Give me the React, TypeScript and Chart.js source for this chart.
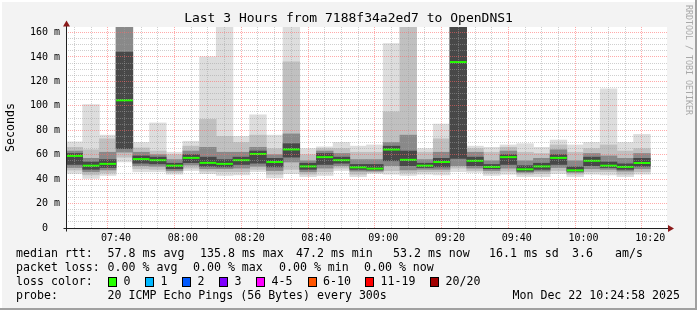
import React, { useEffect, useRef } from 'react';
import { Chart, registerables } from 'chart.js';

Chart.register(...registerables);

// ---------- data ----------
const START = '07:25';
const END = '10:25';
const barEnd = ['07:30','07:35','07:40','07:45','07:50','07:55','08:00','08:05','08:10','08:15','08:20','08:25','08:30','08:35','08:40','08:45','08:50','08:55','09:00','09:05','09:10','09:15','09:20','09:25','09:30','09:35','09:40','09:45','09:50','09:55','10:00','10:05','10:10','10:15','10:20'];
const minRtt = [44.6,40.5,43,54,46,46,44,47,44.5,43,43.5,46,41,44.5,42,43,47,42,44.5,44,43,44,43.5,46,45.5,43,44,42,42,44.5,42,44,43.5,42,44];
const lo2 =    [47.4,43.5,45,58,48.5,48,45.5,49,46.5,46,46,48,44,48,44,46,49,44,45.5,47,45,46,46,49,47,45,46.5,44,44.5,47,44,46,46,44,46];
const lo3 =    [49.5,46,47.5,62,51,50.5,47,51.5,48.5,48.5,49,50.5,47,54,46,49,51,46.5,46.5,51,47.5,48,48,51,49,47,49,45.5,46.5,49.5,45.5,48.5,48,46.5,48.5];
const lo4 =    [52,48,49.5,65,53,52.5,48.5,53.5,50.5,50,52,53,50,58,48,52,53,48,47.5,55,51,49.5,50,57,51,48.5,52,46.5,48,52,46.5,51,49.5,48,50.5];
const medianRtt = [59,51,52.5,104.5,56.4,55.5,51,57.4,53.3,52.5,55.5,60.6,54,64.3,50.4,58,55.5,49.6,48.6,64.2,55.8,51,54,135.8,55,50,58,48,50.4,57.4,47.2,55,51,50,53.2];
const hi4 =    [61,54,56,144,59,58,53,60,58,56,58,63,57,69,53,61,58,52,52,67,63,53,57,200,58,52,60,51,53,60,50,58,54,52.5,57];
const hi3 =    [63,57,62,200,62,60,56,63,66,62,62,66,60,77,55,63,61,56,56,70,76,56,62,200,62,55,63,55,57,64,55,61,59,57,61];
const hi2 =    [66,64,73,200,65.5,63,60,67,89,75,70,76,65,136,60,65,65,62,62,95,175,62,73,200,65,62,66,62,61,68,62,65,68,63,65];
const maxRtt = [70.5,101,76,200,70,86,62,71,140,175,75,92.7,76,175,65,66.4,70,67,68,151,200,65,85,200,67,66,68,69,66,72,68,70,114,70,76.6];

const xTickLabels = ['07:40','08:00','08:20','08:40','09:00','09:20','09:40','10:00','10:20'];
const yMax = 164.5;
const yMajorStep = 20;
const yMinorStep = 5;

const titleText = 'Last 3 Hours from 7188f34a2ed7 to OpenDNS1';
const yTitle = 'Seconds';
const rrdTag = 'RRDTOOL / TOBI OETIKER';
const rttLabel = 'median rtt:';
const rttStats = ['57.8 ms avg', '135.8 ms max', '47.2 ms min', '53.2 ms now', '16.1 ms sd', '3.6', 'am/s'];
const lossLabel = 'packet loss:';
const lossStats = ['0.00 % avg', '0.00 % max', '0.00 % min', '0.00 % now'];
const lossColorLabel = 'loss color:';
const lossNames = ['0', '1', '2', '3', '4-5', '6-10', '11-19', '20/20'];
const lossColors = ['#26ff00', '#00b8ff', '#0059ff', '#7e00ff', '#ff00ff', '#ff5500', '#ff0000', '#a10000'];
const probeLabel = 'probe:';
const probeText = '20 ICMP Echo Pings (56 Bytes) every 300s';
const dateText = 'Mon Dec 22 10:24:58 2025';

// ---------- helpers ----------
const toMin = (s: string) => { const [h, m] = s.split(':').map(Number); return h * 60 + m; };
const START_MIN = toMin(START);
const SPAN = toMin(END) - START_MIN;
const STEP = 5;
const centers = barEnd.map((t) => toMin(t) - START_MIN - STEP / 2);
const fmtTime = (m: number) => {
  const t = START_MIN + m;
  return String(Math.floor(t / 60)).padStart(2, '0') + ':' + String(t % 60).padStart(2, '0');
};

const MONO = '"DejaVu Sans Mono", monospace';
const MAJOR = 'rgba(255,100,100,0.55)';
const MINOR = 'rgba(160,160,160,0.5)';

const framePlugin = {
  id: 'smokeFrame',
  beforeDraw(chart: any) {
    const { ctx, width, height, chartArea: a } = chart;
    ctx.save();
    ctx.fillStyle = '#f3f3f3';
    ctx.fillRect(0, 0, width, height);
    ctx.fillStyle = '#ffffff';
    ctx.fillRect(0, 0, width, 2);
    ctx.fillRect(0, 0, 2, height);
    ctx.fillStyle = '#a0a0a0';
    ctx.fillRect(width - 2, 0, 2, height);
    ctx.fillRect(0, height - 2, width, 2);
    ctx.fillStyle = '#ffffff';
    ctx.fillRect(a.left, a.top, a.right - a.left, a.bottom - a.top);
    ctx.restore();
  },
  afterDraw(chart: any) {
    const { ctx, width, chartArea: a } = chart;
    const ys = chart.scales.y;
    ctx.save();
    // axes
    const x0 = Math.round(a.left) + 0.5;
    const y0 = Math.round(ys.getPixelForValue(0)) + 0.5;
    ctx.strokeStyle = '#202020';
    ctx.lineWidth = 1;
    ctx.beginPath();
    ctx.moveTo(x0 - 3, y0);
    ctx.lineTo(a.right + 2, y0);
    ctx.moveTo(x0, y0 + 3);
    ctx.lineTo(x0, a.top - 2);
    ctx.stroke();
    ctx.fillStyle = '#8b1a1a';
    ctx.beginPath();
    ctx.moveTo(a.right + 7, y0);
    ctx.lineTo(a.right + 1, y0 - 3.5);
    ctx.lineTo(a.right + 1, y0 + 3.5);
    ctx.closePath();
    ctx.fill();
    ctx.beginPath();
    ctx.moveTo(x0, a.top - 6.5);
    ctx.lineTo(x0 - 3.5, a.top - 0.5);
    ctx.lineTo(x0 + 3.5, a.top - 0.5);
    ctx.closePath();
    ctx.fill();

    // title
    ctx.fillStyle = '#000';
    ctx.font = `13px ${MONO}`;
    ctx.textAlign = 'center';
    ctx.textBaseline = 'middle';
    ctx.fillText(titleText, width / 2, 19);

    // y title
    ctx.save();
    ctx.translate(11, (a.top + a.bottom) / 2);
    ctx.rotate(-Math.PI / 2);
    ctx.font = `11.6px ${MONO}`;
    ctx.fillText(yTitle, 0, 0);
    ctx.restore();

    // rrdtool tag
    ctx.save();
    ctx.translate(688, 5);
    ctx.rotate(Math.PI / 2);
    ctx.font = `8.3px ${MONO}`;
    ctx.fillStyle = '#a8a8a8';
    ctx.textAlign = 'left';
    ctx.textBaseline = 'middle';
    ctx.fillText(rrdTag, 0, 0);
    ctx.restore();

    // legend
    ctx.font = `11.6px ${MONO}`;
    ctx.textAlign = 'left';
    ctx.textBaseline = 'middle';
    ctx.fillStyle = '#000';
    const rows = [254, 268, 282, 296];
    ctx.fillText(rttLabel, 16, rows[0]);
    const rttX = [107.6, 200, 296, 393, 489, 572, 615];
    rttStats.forEach((s, i) => ctx.fillText(s, rttX[i], rows[0]));
    ctx.fillText(lossLabel, 16, rows[1]);
    const lossX = [107.6, 193, 279, 364];
    lossStats.forEach((s, i) => ctx.fillText(s, lossX[i], rows[1]));
    ctx.fillText(lossColorLabel, 16, rows[2]);
    const boxX = [108, 145, 182, 219, 256, 307.5, 365, 430];
    lossNames.forEach((n, i) => {
      const bx = Math.round(boxX[i]);
      ctx.fillStyle = lossColors[i];
      ctx.fillRect(bx, rows[2] - 5, 9, 10);
      ctx.strokeStyle = '#000';
      ctx.lineWidth = 1;
      ctx.strokeRect(bx + 0.5, rows[2] - 4.5, 8, 9);
      ctx.fillStyle = '#000';
      ctx.fillText(n, boxX[i] + 15.6, rows[2]);
    });
    ctx.fillText(probeLabel, 16, rows[3]);
    ctx.fillText(probeText, 107.6, rows[3]);
    ctx.textAlign = 'right';
    ctx.fillText(dateText, 680, rows[3]);
    ctx.restore();
  },
};

const layer = (lo: number[], hi: number[], color: string, order: number) => ({
  type: 'bar' as const,
  data: centers.map((x, i) => ({ x, y: [lo[i], hi[i]] })),
  backgroundColor: color,
  borderWidth: 0,
  barPercentage: 1,
  categoryPercentage: 1,
  grouped: false,
  order,
});

export default function App() {
  const ref = useRef<HTMLCanvasElement | null>(null);

  useEffect(() => {
    document.body.style.margin = '0';
    const canvas = ref.current;
    if (!canvas) return;
    const chart = new Chart(canvas, {
      type: 'bar',
      data: {
        datasets: [
          layer(minRtt, maxRtt, '#dddddd', 5),
          layer(lo2, hi2, '#c0c0c0', 4),
          layer(lo3, hi3, '#898989', 3),
          layer(lo4, hi4, '#484848', 2),
          {
            type: 'line' as const,
            data: centers.map((x, i) => ({ x, y: medianRtt[i] })),
            showLine: false,
            pointStyle: 'line',
            pointRadius: (c: any) => {
              const s = c.chart.scales.x;
              return (s.getPixelForValue(STEP) - s.getPixelForValue(0)) / 2;
            },
            pointBorderWidth: 2,
            pointBorderColor: lossColors[0],
            pointBackgroundColor: lossColors[0],
            order: 1,
          } as any,
        ],
      },
      options: {
        responsive: false,
        animation: false,
        events: [],
        layout: { padding: { left: 8, right: 30, top: 27, bottom: 62 } },
        plugins: { legend: { display: false }, tooltip: { enabled: false } },
        scales: {
          x: {
            type: 'linear',
            min: 0,
            max: SPAN,
            offset: false,
            afterFit: (s: any) => { s.height = 20; },
            border: { display: false, dash: [1, 1] },
            grid: {
              z: 1,
              drawTicks: false,
              lineWidth: 1,
              color: (c: any) => {
                const v = c.tick ? c.tick.value : -1;
                if (v <= 0 || v >= SPAN) return 'rgba(0,0,0,0)';
                return xTickLabels.includes(fmtTime(v)) ? MAJOR : MINOR;
              },
            },
            ticks: {
              stepSize: STEP,
              autoSkip: false,
              maxRotation: 0,
              minRotation: 0,
              padding: 4,
              color: '#000',
              font: { family: MONO, size: 10 },
              callback: (v: any) => (xTickLabels.includes(fmtTime(Number(v))) ? fmtTime(Number(v)) : ''),
            },
          },
          y: {
            type: 'linear',
            min: 0,
            max: yMax,
            afterFit: (s: any) => { s.width = 58; },
            border: { display: false, dash: [1, 1] },
            grid: {
              z: 1,
              drawTicks: false,
              lineWidth: 1,
              color: (c: any) => {
                const v = c.tick ? c.tick.value : -1;
                if (v <= 0) return 'rgba(0,0,0,0)';
                return v % yMajorStep === 0 ? MAJOR : MINOR;
              },
            },
            ticks: {
              stepSize: yMinorStep,
              includeBounds: false,
              autoSkip: false,
              padding: 6,
              color: '#000',
              font: { family: MONO, size: 10 },
              callback: (v: any) => {
                const n = Number(v);
                if (n % yMajorStep !== 0) return '';
                return n === 0 ? '0  ' : `${n} m`;
              },
            },
          },
        },
      } as any,
      plugins: [framePlugin],
    });
    return () => chart.destroy();
  }, []);

  return (
    <canvas ref={ref} width={697} height={310} style={{ display: 'block', width: 697, height: 310 }} />
  );
}
